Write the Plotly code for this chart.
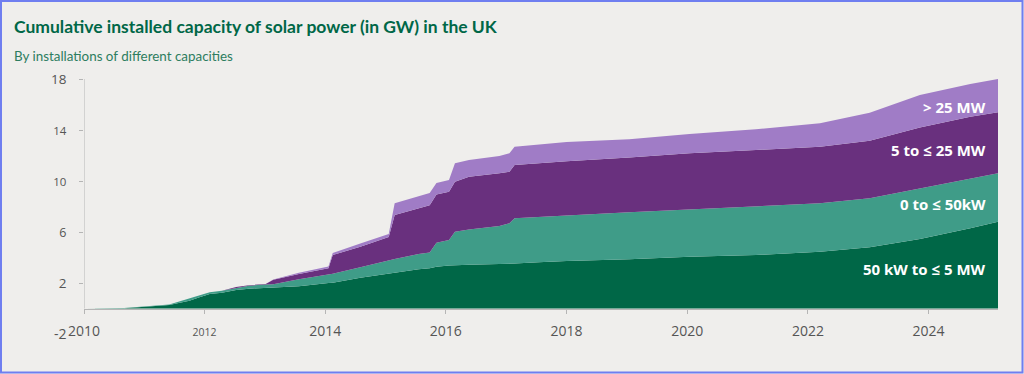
import plotly.graph_objects as go

# ---- data (cumulative GW) ----
dates = [
    "2010-01-01", "2010-09-01", "2011-06-01", "2011-07-15", "2011-10-01", "2011-12-01",
    "2012-02-01", "2012-04-15", "2012-06-15", "2012-07-10", "2012-09-25", "2013-01-05",
    "2013-02-20", "2013-07-25", "2014-01-20", "2014-02-15", "2014-08-01", "2015-01-20",
    "2015-02-25", "2015-07-20", "2015-09-25", "2015-11-05", "2016-01-20", "2016-02-25",
    "2016-05-20", "2016-11-20", "2017-01-20", "2017-02-20", "2017-07-15", "2018-01-01",
    "2019-01-15", "2020-01-15", "2021-02-20", "2022-03-15", "2023-01-10", "2023-11-10",
    "2024-09-10", "2025-02-25",
]
cum_50kw_to_5mw = [
    0.00, 0.02, 0.27, 0.40, 0.61, 0.88,
    1.14, 1.24, 1.40, 1.45, 1.55, 1.60,
    1.63, 1.75, 2.00, 2.02, 2.42, 2.76,
    2.80, 3.07, 3.15, 3.28, 3.38, 3.41,
    3.43, 3.49, 3.50, 3.52, 3.62, 3.72,
    3.86, 4.06, 4.20, 4.46, 4.80, 5.45,
    6.29, 6.81,
]
cum_0_to_50kw = [
    0.00, 0.03, 0.31, 0.49, 0.80, 1.00,
    1.27, 1.40, 1.55, 1.66, 1.79, 1.88,
    1.91, 2.30, 2.68, 2.72, 3.23, 3.80,
    3.88, 4.27, 4.40, 5.15, 5.37, 6.02,
    6.20, 6.47, 6.68, 7.07, 7.15, 7.30,
    7.55, 7.78, 7.98, 8.25, 8.65, 9.40,
    10.20, 10.60,
]
cum_5_to_25mw = [
    0.00, 0.03, 0.31, 0.49, 0.80, 1.00,
    1.27, 1.40, 1.56, 1.68, 1.82, 1.93,
    2.25, 2.70, 3.15, 4.20, 4.85, 5.60,
    7.33, 7.85, 8.10, 8.95, 9.16, 9.95,
    10.34, 10.60, 10.73, 11.25, 11.39, 11.55,
    11.85, 12.17, 12.43, 12.69, 13.15, 14.20,
    15.04, 15.39,
]
cum_over_25mw = [
    0.00, 0.03, 0.31, 0.49, 0.80, 1.00,
    1.27, 1.40, 1.56, 1.68, 1.82, 1.93,
    2.27, 2.80, 3.30, 4.35, 5.10, 5.85,
    8.25, 8.77, 9.05, 9.85, 10.08, 11.39,
    11.65, 11.96, 12.17, 12.69, 12.87, 13.05,
    13.27, 13.69, 14.05, 14.52, 15.35, 16.75,
    17.60, 18.00,
]

series_names = ["50 kW to ≤ 5 MW", "0 to ≤ 50kW", "5 to ≤ 25 MW", "> 25 MW"]
series_values = [cum_50kw_to_5mw, cum_0_to_50kw, cum_5_to_25mw, cum_over_25mw]
colors = ["#006747", "#3f9c88", "#69307e", "#a07cc6"]
label_y = [3.1, 8.2, 12.45, 15.8]

y_tickvals = [-2, 2, 6, 10, 14, 18]
y_tickfont = [14, 13.5, 12.5, 11.5, 11.5, 13.5]
x_tickvals = ["2010-01-01", "2012-01-01", "2014-01-01", "2016-01-01",
              "2018-01-01", "2020-01-01", "2022-01-01", "2024-01-01"]
x_ticklabels = ["2010", "2012", "2014", "2016", "2018", "2020", "2022", "2024"]
x_tickfont = [14, 10.5, 14, 14, 14, 14, 14, 14]

title = "Cumulative installed capacity of solar power (in GW) in the UK"
subtitle = "By installations of different capacities"

# ---- layout geometry ----
W, H = 1024, 374
ML, MR, MT, MB = 84, 26, 79, 40
PW, PH = W - ML - MR, H - MT - MB


def px_x(px):
    return (px - ML) / PW


def px_y(py):
    return (H - MB - py) / PH


fig = go.Figure()
for i, (name, vals, col) in enumerate(zip(series_names, series_values, colors)):
    fig.add_trace(go.Scatter(
        x=dates, y=vals, name=name, mode="lines",
        line=dict(width=0, color=col),
        fill="tozeroy" if i == 0 else "tonexty",
        fillcolor=col, hoverinfo="skip", showlegend=False,
    ))

TICK_COLOR = "#555555"
AXIS_COLOR = "#b5b5b5"

fig.update_layout(
    width=W, height=H,
    margin=dict(l=ML, r=MR, t=MT, b=MB, pad=0),
    paper_bgcolor="#efeeec", plot_bgcolor="#efeeec",
    font=dict(family="Open Sans, Noto Sans, sans-serif", color=TICK_COLOR, size=13),
    xaxis=dict(
        type="date", range=[dates[0], dates[-1]],
        tickvals=x_tickvals,
        ticktext=[f'<span style="font-size:{s}px">{t}</span>' for t, s in zip(x_ticklabels, x_tickfont)],
        showgrid=False, zeroline=False,
        showline=True, linecolor=AXIS_COLOR, linewidth=1,
        ticks="outside", ticklen=4, tickcolor=AXIS_COLOR,
        anchor="free", position=px_y(308.5),
        ticklabelstandoff=6,
        tickfont=dict(size=14, color=TICK_COLOR),
    ),
    yaxis=dict(
        range=[-2, 18], tickvals=y_tickvals,
        ticktext=[f'<span style="font-size:{s}px">{v}</span>' for v, s in zip(y_tickvals, y_tickfont)],
        showgrid=False, zeroline=False, showline=False,
        ticks="outside", ticklen=4, tickcolor=AXIS_COLOR,
        ticklabelstandoff=10,
        tickfont=dict(size=13, color=TICK_COLOR),
    ),
)

# y axis line (from 0 up to the top)
fig.add_shape(type="line", xref="x", yref="y", x0=dates[0], x1=dates[0], y0=0, y1=18,
              line=dict(color=AXIS_COLOR, width=1), layer="above")

# frame around the image
fig.add_shape(type="rect", xref="paper", yref="paper",
              x0=px_x(1), x1=px_x(1022.5), y0=px_y(372.5), y1=px_y(1),
              line=dict(color="#6f7ef0", width=2), fillcolor="rgba(0,0,0,0)", layer="above")

# title and subtitle
fig.add_annotation(text=f"<b>{title}</b>", xref="paper", yref="paper",
                   x=px_x(12), y=px_y(26), xanchor="left", yanchor="middle", showarrow=False,
                   font=dict(family="Lato, sans-serif", size=17.5, color="#006747"))
fig.add_annotation(text=subtitle, xref="paper", yref="paper",
                   x=px_x(12), y=px_y(55.5), xanchor="left", yanchor="middle", showarrow=False,
                   font=dict(family="Lato, sans-serif", size=13.4, color="#2d7d5f"))

# in-chart series labels
for name, yv in zip(series_names, label_y):
    fig.add_annotation(text=f"<b>{name}</b>", xref="paper", yref="y",
                       x=px_x(988), y=yv, xanchor="right", yanchor="middle", showarrow=False,
                       font=dict(family="Open Sans, sans-serif", size=15, color="#ffffff"))

fig.write_html("out.html",
               config={"displayModeBar": False, "staticPlot": True},
               post_script="document.body.style.margin='0';document.body.style.overflow='hidden';")
